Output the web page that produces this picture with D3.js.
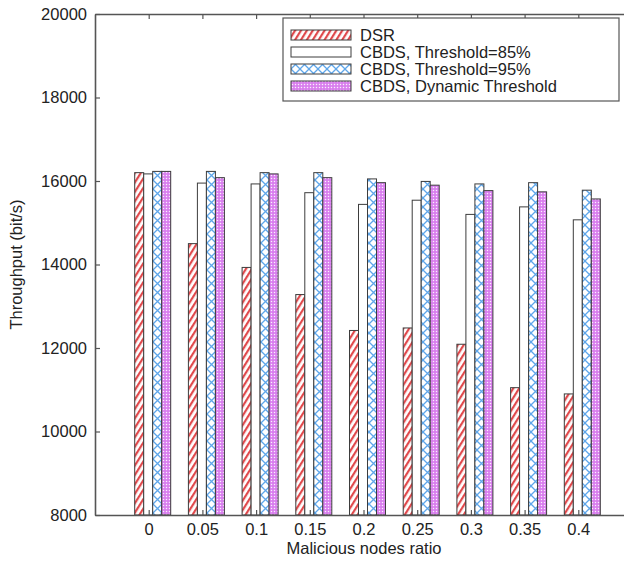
<!DOCTYPE html>
<html>
<head>
<meta charset="utf-8">
<script src="https://cdn.jsdelivr.net/npm/d3@7"></script>
<style>
  body { margin: 0; background: #fff; }
  svg { font-family: "Liberation Sans", Arial, sans-serif; }
</style>
</head>
<body>
<div id="chart"></div>
<script>
// data
const categories = ["0", "0.05", "0.1", "0.15", "0.2", "0.25", "0.3", "0.35", "0.4"];
const seriesNames = ["DSR", "CBDS, Threshold=85%", "CBDS, Threshold=95%", "CBDS, Dynamic Threshold"];
const dsr     = [16200, 14500, 13930, 13280, 12420, 12480, 12090, 11050, 10900];
const cbds85  = [16170, 15950, 15930, 15720, 15440, 15540, 15200, 15380, 15070];
const cbds95  = [16230, 16230, 16200, 16200, 16050, 15990, 15930, 15960, 15780];
const cbdsDyn = [16230, 16080, 16170, 16080, 15960, 15900, 15770, 15740, 15570];
const yTicks  = [8000, 10000, 12000, 14000, 16000, 18000, 20000];

const allSeries = [dsr, cbds85, cbds95, cbdsDyn];
const fills = ["url(#hatchRed)", "#ffffff", "url(#crossBlue)", "url(#dotPink)"];

const width = 624, height = 565;
const svg = d3.select("#chart").append("svg")
    .attr("width", width)
    .attr("height", height);

// patterns for the bar fills
const defs = svg.append("defs");

const red = defs.append("pattern")
    .attr("id", "hatchRed")
    .attr("patternUnits", "userSpaceOnUse")
    .attr("width", 5).attr("height", 5)
    .attr("patternTransform", "rotate(32)");
red.append("rect").attr("width", 5).attr("height", 5).attr("fill", "#fff");
red.append("rect").attr("width", 2.2).attr("height", 5).attr("fill", "#e0494c");

const blue = defs.append("pattern")
    .attr("id", "crossBlue")
    .attr("patternUnits", "userSpaceOnUse")
    .attr("width", 9).attr("height", 9);
blue.append("rect").attr("width", 9).attr("height", 9).attr("fill", "#fff");
blue.append("path").attr("d", "M0,0L9,9M9,0L0,9")
    .attr("stroke", "#5ea6ea").attr("stroke-width", 1.3);

const pink = defs.append("pattern")
    .attr("id", "dotPink")
    .attr("patternUnits", "userSpaceOnUse")
    .attr("width", 3).attr("height", 3);
pink.append("rect").attr("width", 3).attr("height", 3).attr("fill", "#d97fee");
pink.append("circle").attr("cx", 1.5).attr("cy", 1.5).attr("r", 0.75).attr("fill", "#fbeefe");

// scales
const x = d3.scaleLinear().domain([-1, categories.length]).range([95, 632]);
const y = d3.scaleLinear().domain([8000, 20000]).range([515, 14]);
const xBar = d3.scaleBand().domain(d3.range(seriesNames.length)).range([-14, 22]);

// bars
allSeries.forEach((vals, s) => {
  svg.append("g")
    .selectAll("rect")
    .data(vals)
    .join("rect")
      .attr("x", (d, i) => x(i) + xBar(s))
      .attr("y", d => y(d))
      .attr("width", xBar.bandwidth())
      .attr("height", d => y(8000) - y(d))
      .attr("fill", fills[s])
      .attr("stroke", "#3d3d3d")
      .attr("stroke-width", 1);
});

// axes
const idx = d3.range(categories.length);
const axisColor = "#555";
const fontSize = 16.5;

const bottomAxis = svg.append("g")
    .attr("transform", `translate(0,${y(8000)})`)
    .call(d3.axisBottom(x).tickValues(idx).tickFormat(i => categories[i])
      .tickSizeInner(-5).tickSizeOuter(0).tickPadding(8));

const topAxis = svg.append("g")
    .attr("transform", `translate(0,${y(20000)})`)
    .call(d3.axisTop(x).tickValues(idx).tickFormat("")
      .tickSizeInner(-5).tickSizeOuter(0));

const leftAxis = svg.append("g")
    .attr("transform", `translate(${x(-1)},0)`)
    .call(d3.axisLeft(y).tickValues(yTicks).tickFormat(d3.format("d"))
      .tickSizeInner(-5).tickSizeOuter(0).tickPadding(8));

const rightAxis = svg.append("g")
    .attr("transform", `translate(${x(categories.length)},0)`)
    .call(d3.axisRight(y).tickValues(yTicks).tickFormat("")
      .tickSizeInner(-5).tickSizeOuter(0));

[bottomAxis, topAxis, leftAxis, rightAxis].forEach(g => {
  g.select(".domain").attr("stroke", axisColor).attr("stroke-width", 1.6);
  g.selectAll(".tick line").attr("stroke", axisColor).attr("stroke-width", 1.2);
  g.selectAll(".tick text")
    .attr("fill", "#222")
    .attr("font-size", fontSize)
    .attr("font-family", "Liberation Sans, Arial, sans-serif");
});

// axis titles
svg.append("text")
    .attr("transform", `translate(22,${(y(8000) + y(20000)) / 2}) rotate(-90)`)
    .attr("text-anchor", "middle")
    .attr("font-size", fontSize)
    .attr("fill", "#222")
    .text("Throughput (bit/s)");

svg.append("text")
    .attr("x", 364)
    .attr("y", 554)
    .attr("text-anchor", "middle")
    .attr("font-size", fontSize)
    .attr("fill", "#222")
    .text("Malicious nodes ratio");

// legend
const legend = svg.append("g");
legend.append("rect")
    .attr("x", 283).attr("y", 18)
    .attr("width", 336).attr("height", 83)
    .attr("fill", "#fff")
    .attr("stroke", axisColor)
    .attr("stroke-width", 1.2);

const rows = legend.selectAll("g.item")
    .data(seriesNames)
    .join("g")
      .attr("class", "item")
      .attr("transform", (d, i) => `translate(291,${35 + i * 17})`);

rows.append("rect")
    .attr("x", 0).attr("y", -5)
    .attr("width", 60).attr("height", 10)
    .attr("fill", (d, i) => fills[i])
    .attr("stroke", "#3d3d3d")
    .attr("stroke-width", 1);

rows.append("text")
    .attr("x", 69)
    .attr("dy", "0.35em")
    .attr("font-size", fontSize)
    .attr("fill", "#222")
    .text(d => d);
</script>
</body>
</html>
